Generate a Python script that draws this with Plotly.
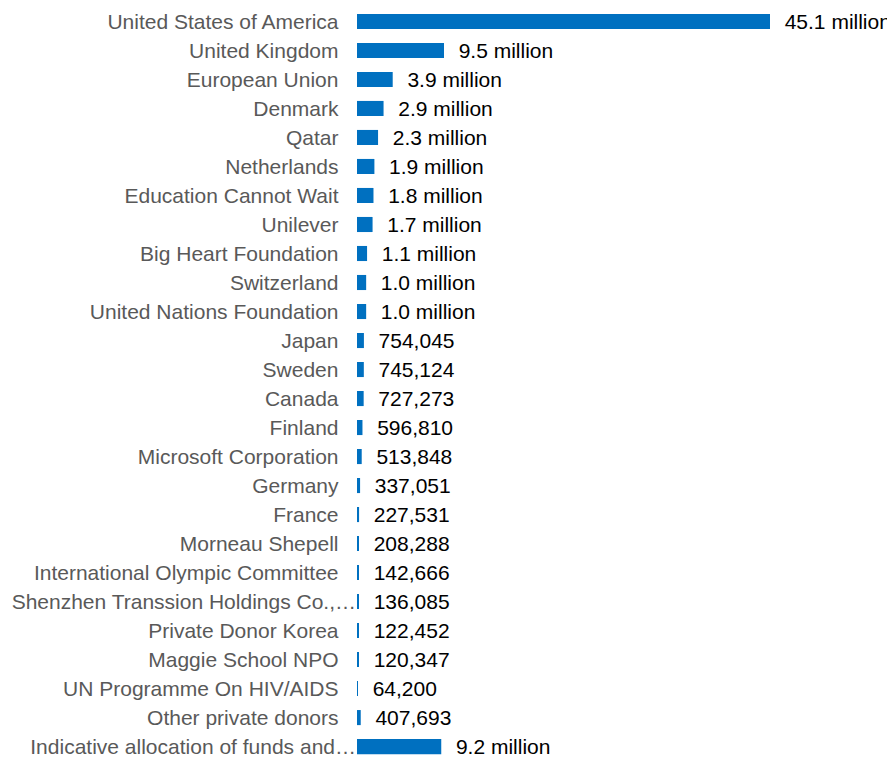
import plotly.graph_objects as go

donors = [
    "United States of America", "United Kingdom", "European Union", "Denmark", "Qatar",
    "Netherlands", "Education Cannot Wait", "Unilever", "Big Heart Foundation", "Switzerland",
    "United Nations Foundation", "Japan", "Sweden", "Canada", "Finland",
    "Microsoft Corporation", "Germany", "France", "Morneau Shepell",
    "International Olympic Committee", "Shenzhen Transsion Holdings Co.,\u2026",
    "Private Donor Korea", "Maggie School NPO", "UN Programme On HIV/AIDS",
    "Other private donors", "Indicative allocation of funds and\u2026",
]
amounts = [
    45100000, 9500000, 3900000, 2900000, 2300000,
    1900000, 1800000, 1700000, 1100000, 1000000,
    1000000, 754045, 745124, 727273, 596810,
    513848, 337051, 227531, 208288,
    142666, 136085,
    122452, 120347, 64200,
    407693, 9200000,
]


def fmt(v):
    if v >= 1_000_000:
        return f"{v / 1e6:.1f} million"
    return f"{v:,}"


labels = ["\u00a0\u00a0" + fmt(v) for v in amounts]
# truncated names run right up to the bars, full names keep a gap
tick_text = [d if d.endswith("\u2026") else d + "\u00a0\u00a0\u00a0" for d in donors]

FONT = "Liberation Sans, Arial, sans-serif"

fig = go.Figure(
    go.Bar(
        x=amounts,
        y=donors,
        orientation="h",
        marker=dict(color="#0070C0", line=dict(width=0)),
        text=labels,
        textposition="outside",
        constraintext="none",
        cliponaxis=False,
        textfont=dict(family=FONT, size=21, color="#000000"),
        hoverinfo="skip",
    )
)

n = len(donors)
fig.update_layout(
    width=887,
    height=750,
    margin=dict(l=349, r=0, t=0, b=0, pad=0),
    paper_bgcolor="white",
    plot_bgcolor="white",
    bargap=0.48,
    showlegend=False,
    font=dict(family=FONT),
)
fig.update_xaxes(
    range=[0, 58.75e6],
    visible=False,
    showgrid=False,
    zeroline=False,
)
fig.update_yaxes(
    type="category",
    categoryorder="array",
    categoryarray=donors,
    tickmode="array",
    tickvals=donors,
    ticktext=tick_text,
    range=[n - 1 + 0.29, -0.464],
    autorange=False,
    showgrid=False,
    showline=False,
    zeroline=False,
    ticks="",
    ticklabelstandoff=0,
    tickfont=dict(family=FONT, size=21, color="#595959"),
)

fig.write_html("out.html")
